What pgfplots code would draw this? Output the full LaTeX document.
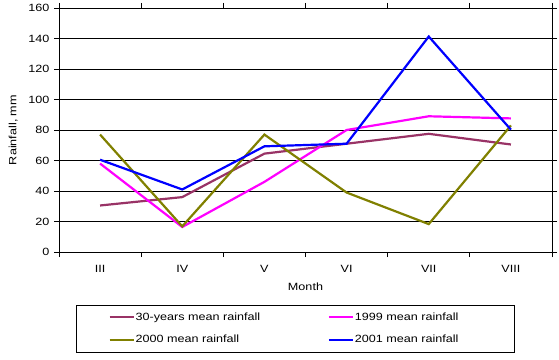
\documentclass[border=0pt]{standalone}
\usepackage{fontspec}
\setmainfont{Liberation Sans}[FakeStretch=1.2]
\usepackage{pgfplots}
\pgfplotsset{compat=1.18}
\definecolor{cthirty}{RGB}{153,51,102}
\definecolor{cnn}{RGB}{255,0,255}
\definecolor{ctt}{RGB}{128,128,0}
\definecolor{cto}{RGB}{0,0,255}
\begin{document}
\begin{tikzpicture}[x=1bp,y=1bp]
\path[use as bounding box] (0,0) rectangle (559,359);
\begin{axis}[
  at={(59bp,107bp)}, anchor=south west,
  scale only axis, width=493bp, height=244bp,
  font=\fontsize{10.5bp}{12bp}\selectfont,
  /pgf/number format/assume math mode=true,
  xmin=-0.5, xmax=5.5, ymin=0, ymax=160,
  xtick={0,...,5},
  xticklabels={III,IV,V,VI,VII,VIII},
  major x tick style={draw=none},
  minor xtick={-0.5,0.5,...,5.5},
  ytick={0,20,...,160},
  tick align=outside,
  major tick length=5bp, minor tick length=5bp,
  tick style={black, line width=0.7bp},
  ymajorgrids, grid style={black, line width=0.7bp},
  axis line style={black, line width=0.7bp},
  yticklabel style={xshift=-1bp},
  xticklabel style={yshift=-5bp},
  xlabel={Month}, ylabel={Rainfall, mm},
  every axis x label/.style={at={(axis description cs:0.5,-0.143)}, anchor=center},
  every axis y label/.style={at={(axis description cs:-0.093,0.5)}, rotate=90, anchor=center},
  legend columns=2,
  legend image code/.code={\draw[#1, line width=2.2bp] (0bp,0bp) -- (24bp,0bp);},
  legend style={at={(axis description cs:0.479,-0.3135)}, anchor=center,
    draw=black, line width=0.7bp, inner xsep=32bp, inner ysep=5.75bp,
    row sep=9.5bp,
    cells={anchor=west},
    nodes={inner sep=1bp, text height=8.5bp, text depth=2.5bp}},
  every axis plot/.append style={line width=2.2bp},
]
\addplot[cthirty] coordinates {(0,30.5) (1,36) (2,64.5) (3,71) (4,77.5) (5,70.5)};
\addlegendentry{\makebox[191bp][l]{30-years mean rainfall}}
\addplot[cnn] coordinates {(0,58) (1,16.4) (2,46) (3,80) (4,89) (5,87.6)};
\addlegendentry{\makebox[126bp][l]{1999 mean rainfall}}
\addplot[ctt] coordinates {(0,77) (1,16.8) (2,77) (3,39) (4,18.3) (5,83)};
\addlegendentry{\makebox[191bp][l]{2000 mean rainfall}}
\addplot[cto] coordinates {(0,60.5) (1,41) (2,69.3) (3,71) (4,141.3) (5,80.2)};
\addlegendentry{\makebox[126bp][l]{2001 mean rainfall}}
\end{axis}
\end{tikzpicture}
\end{document}
